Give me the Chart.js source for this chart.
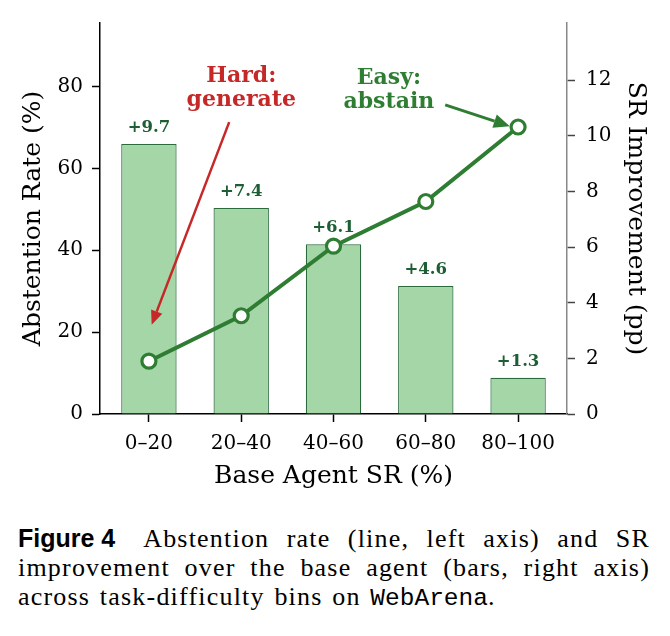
<!DOCTYPE html>
<html>
<head>
<meta charset="utf-8">
<script src="https://cdn.jsdelivr.net/npm/chart.js@4.4.1/dist/chart.umd.min.js"></script>
<style>
  body { margin: 0; background: #fff; width: 670px; height: 636px; position: relative; overflow: hidden; }
  #wrap { position: absolute; left: 0; top: 0; width: 670px; height: 500px; }
  .cap { position: absolute; left: 18px; width: 632px; top: 524px; font-family: "Liberation Serif", serif; font-size: 26px; line-height: 29px; letter-spacing: 1.2px; word-spacing: 2px; color: #000; }
  .cap div { text-align: justify; text-align-last: justify; white-space: nowrap; }
  .cap div.last { text-align-last: left; }
  .fig { display: inline-block; font-family: "Liberation Sans", sans-serif; font-weight: bold; font-size: 25px; letter-spacing: 0; word-spacing: 0; margin-right: 12px; }
  .tt { font-family: "Liberation Mono", monospace; font-size: 24.5px; letter-spacing: 0; }
</style>
</head>
<body>
<div id="wrap"><canvas id="abstentionChart"></canvas></div>
<div class="cap">
  <div><span class="fig">Figure 4</span> Abstention rate (line, left axis) and SR</div>
  <div>improvement over the base agent (bars, right axis)</div>
  <div class="last">across task-difficulty bins on <span class="tt">WebArena</span>.</div>
</div>
<script>
// difficulty bins (base agent success rate)
const bins = ['0–20', '20–40', '40–60', '60–80', '80–100'];
const srGain = [9.7, 7.4, 6.1, 4.6, 1.3];          // SR improvement, pp (bars, right axis)
const abstention = [12.9, 24.0, 41.0, 51.9, 70.1]; // abstention rate, % (line, left axis)

const green = '#2e7d32';
const red = '#c62828';

// callouts, in data units (x = bin index, y = left axis)
const notes = [
  { lines: ['Hard:', 'generate'], x: 1.0, y: 81.0, color: red },
  { lines: ['Easy:', 'abstain'], x: 2.6, y: 80.7, color: green }
];
const arrows = [
  { from: [0.87, 71.3], to: [0.03, 21.8], color: red, width: 2.5, head: 14, half: 6 },
  { from: [3.21, 75.5], to: [3.91, 70.3], color: green, width: 3, head: 16, half: 7 }
];

Chart.defaults.font.family = "'DejaVu Serif', serif";
Chart.defaults.color = '#000';

const barLabels = {
  id: 'barLabels',
  afterDatasetsDraw(chart) {
    const ctx = chart.ctx;
    const meta = chart.getDatasetMeta(0);
    ctx.save();
    ctx.font = "bold 16.5px 'DejaVu Serif'";
    ctx.fillStyle = '#1e5e35';
    ctx.textAlign = 'center';
    ctx.textBaseline = 'alphabetic';
    meta.data.forEach((bar, i) => {
      ctx.fillText('+' + srGain[i].toFixed(1), bar.x, bar.y - 12);
    });
    ctx.restore();
  }
};

const callouts = {
  id: 'callouts',
  afterDraw(chart) {
    const ctx = chart.ctx;
    const xs = chart.scales.x, ys = chart.scales.y;
    ctx.save();
    ctx.font = "bold 22px 'DejaVu Serif'";
    ctx.textAlign = 'center';
    ctx.textBaseline = 'alphabetic';
    notes.forEach(n => {
      ctx.fillStyle = n.color;
      const px = xs.getPixelForValue(n.x);
      const py = ys.getPixelForValue(n.y);
      n.lines.forEach((t, k) => ctx.fillText(t, px, py + k * 24));
    });
    arrows.forEach(a => {
      const x1 = xs.getPixelForValue(a.from[0]), y1 = ys.getPixelForValue(a.from[1]);
      const x2 = xs.getPixelForValue(a.to[0]), y2 = ys.getPixelForValue(a.to[1]);
      const ang = Math.atan2(y2 - y1, x2 - x1);
      const bx = x2 - a.head * Math.cos(ang), by = y2 - a.head * Math.sin(ang);
      ctx.strokeStyle = a.color;
      ctx.fillStyle = a.color;
      ctx.lineWidth = a.width;
      ctx.beginPath();
      ctx.moveTo(x1, y1);
      ctx.lineTo(bx, by);
      ctx.stroke();
      ctx.beginPath();
      ctx.moveTo(x2, y2);
      ctx.lineTo(bx + a.half * Math.sin(ang), by - a.half * Math.cos(ang));
      ctx.lineTo(bx - a.half * Math.sin(ang), by + a.half * Math.cos(ang));
      ctx.closePath();
      ctx.fill();
    });
    ctx.restore();
  }
};

new Chart(document.getElementById('abstentionChart'), {
  type: 'bar',
  data: {
    datasets: [
      {
        type: 'bar',
        label: 'SR Improvement (pp)',
        data: srGain.map((v, i) => ({ x: i, y: v })),
        yAxisID: 'y1',
        backgroundColor: '#a5d6a7',
        borderColor: '#2a6b3c',
        borderWidth: 1.2,
        barPercentage: 0.6,
        categoryPercentage: 1.0,
        order: 2
      },
      {
        type: 'line',
        label: 'Abstention Rate (%)',
        data: abstention.map((v, i) => ({ x: i, y: v })),
        yAxisID: 'y',
        borderColor: green,
        borderWidth: 4,
        pointRadius: 7,
        pointBorderWidth: 3.2,
        pointBackgroundColor: '#fff',
        pointBorderColor: green,
        tension: 0,
        order: 1
      }
    ]
  },
  options: {
    responsive: true,
    maintainAspectRatio: false,
    animation: false,
    layout: { padding: { top: 20, left: 0, right: 0, bottom: 0 } },
    plugins: {
      legend: { display: false },
      tooltip: { enabled: false }
    },
    scales: {
      x: {
        type: 'linear',
        min: -0.53,
        max: 4.53,
        offset: false,
        afterFit: s => { s.height = 86; },
        grid: { offset: false, drawOnChartArea: false, tickLength: 8, tickColor: '#000', tickWidth: 1.5 },
        border: { color: '#000', width: 1.5 },
        ticks: {
          stepSize: 1,
          includeBounds: false,
          autoSkip: false,
          maxRotation: 0,
          padding: 10,
          font: { size: 20 },
          callback: v => bins[v] ?? ''
        },
        title: { display: true, text: 'Base Agent SR (%)', font: { size: 25 }, padding: { top: 0, bottom: 9 } }
      },
      y: {
        position: 'left',
        min: 0,
        max: 95.5,
        afterFit: s => { s.width = 100; },
        grid: { drawOnChartArea: false, tickLength: 8, tickColor: '#000', tickWidth: 1.5 },
        border: { color: '#000', width: 1.5 },
        ticks: { stepSize: 20, includeBounds: false, padding: 9, font: { size: 20 } },
        title: { display: true, text: 'Abstention Rate (%)', font: { size: 25 }, padding: { top: 18, bottom: 0 } }
      },
      y1: {
        position: 'right',
        min: 0,
        max: 14.05,
        afterFit: s => { s.width = 103; },
        afterBuildTicks: s => { s.ticks = s.ticks.filter(t => t.value <= 12); },
        grid: { drawOnChartArea: false, tickLength: 8, tickColor: '#444', tickWidth: 1.5 },
        border: { color: '#888', width: 1.5 },
        ticks: { stepSize: 2, includeBounds: false, padding: 11, font: { size: 20 } },
        title: { display: true, text: 'SR Improvement (pp)', font: { size: 25 }, padding: { top: 20, bottom: 0 } }
      }
    }
  },
  plugins: [barLabels, callouts]
});
</script>
</body>
</html>
